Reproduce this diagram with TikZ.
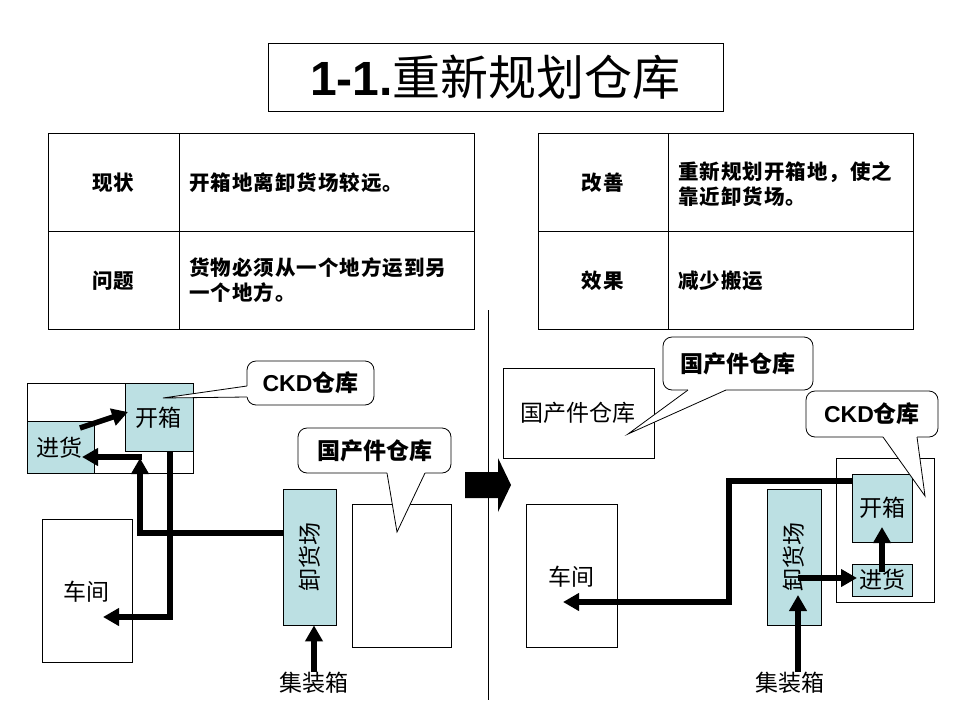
\documentclass[tikz,border=0pt]{standalone}
\usepackage{fontspec}
\setmainfont{Liberation Sans}
\newfontfamily\cjk{Noto Sans CJK SC}
\newfontfamily\cjkwide{Noto Sans CJK SC}[LetterSpace=5]
\usetikzlibrary{arrows.meta}
\definecolor{tealfill}{RGB}{188,224,227}
\begin{document}
\begin{tikzpicture}[x=1pt,y=-1pt,
  box/.style={draw, line width=0.8pt, inner sep=0pt},
  tealbox/.style={box, fill=tealfill},
  lbl/.style={font=\cjk\fontsize{23}{23}\selectfont, inner sep=0pt},
  cell/.style={font=\cjkwide\bfseries\fontsize{20.5}{25.5}\selectfont, inner sep=0pt},
  calloutbox/.style={draw, line width=0.8pt, fill=white, rounded corners=9pt, inner sep=0pt, font=\bfseries\fontsize{23}{23}\selectfont},
  tbl/.style={line width=0.8pt},
  flow/.style={line width=5.5pt, -{Triangle[length=16pt,width=17pt]}},
]
\useasboundingbox[fill=white] (0,0) rectangle (960,720);

% title
\node[box, line width=1pt, minimum width=455pt, minimum height=68pt] (title) at (495.5,77)
  {\fontsize{48}{48}\selectfont\bfseries 1-1.\cjk\mdseries 重新规划仓库};

% left table
\draw[tbl] (48,133) rectangle (474,329);
\draw[tbl] (179,133) -- (179,329);
\draw[tbl] (48,231) -- (474,231);
\node[cell] (t1a) at (113.5,183) {现状};
\node[cell, anchor=west] (t1b) at (189,183) {开箱地离卸货场较远。};
\node[cell] (t1c) at (113.5,281) {问题};
\node[cell, anchor=west, align=left] (t1d) at (189,280) {货物必须从一个地方运到另\\一个地方。};

% right table
\draw[tbl] (538,133) rectangle (913,329);
\draw[tbl] (668,133) -- (668,329);
\draw[tbl] (538,231) -- (913,231);
\node[cell] (t2a) at (603,183) {改善};
\node[cell, anchor=west, align=left] (t2b) at (678,184) {重新规划开箱地，使之\\靠近卸货场。};
\node[cell] (t2c) at (603,281) {效果};
\node[cell, anchor=west] (t2d) at (678,281) {减少搬运};

% divider and big arrow
\draw[line width=1pt] (488,310) -- (488,700);
\fill (465,472) -- (498,472) -- (498,458) -- (511,485) -- (498,512) -- (498,498) -- (465,498) -- cycle;

% ===== left layout =====
\node[box, minimum width=166pt, minimum height=90pt] (ckdL) at (110,428) {};
\node[tealbox, minimum width=68pt, minimum height=68pt] (kxL) at (159,417) {};
\node[lbl] (kxLt) at (158,418) {开箱};
\node[tealbox, minimum width=67pt, minimum height=52pt] (jhL) at (60.5,447) {};
\node[lbl] (jhLt) at (59,448) {进货};
\node[box, minimum width=90pt, minimum height=143pt] (cjL) at (87,590.5) {};
\node[lbl] (cjLt) at (86,592) {车间};
\node[tealbox, minimum width=53pt, minimum height=136pt] (xhL) at (309.5,557) {};
\node[lbl, rotate=90] (xhLt) at (310,557) {卸货场};
\node[box, minimum width=99pt, minimum height=143pt] (gcL) at (401.5,575.5) {};
\node[lbl] (jzL) at (314,683) {集装箱};

\coordinate (aL1) at (140,533);
\coordinate (tipL1) at (140,458);
\coordinate (sL2) at (142,457);
\coordinate (tipL2) at (82,457);
\coordinate (cL3) at (170,617);
\coordinate (tipL3) at (103,617);
\coordinate (dL1) at (80,428);
\coordinate (dL2) at (128,412);
\draw[flow] (xhL.west |- aL1) -- (aL1) -- (tipL1);
\draw[flow] (sL2) -- (tipL2);
\draw[flow] (kxL.south -| cL3) -- (cL3) -- (tipL3);
\draw[flow] (dL1) -- (dL2);
\draw[flow] (jzL.north) -- (jzL.north |- xhL.south);

% ===== right layout =====
\node[box, minimum width=151pt, minimum height=90pt] (gcR) at (578.5,413) {};
\node[lbl] (gcRt) at (578,413) {国产件仓库};
\node[box, minimum width=98pt, minimum height=144pt] (ckdR) at (885,530) {};
\node[tealbox, minimum width=60pt, minimum height=68pt] (kxR) at (882,508) {};
\node[lbl] (kxRt) at (882,508) {开箱};
\node[tealbox, minimum width=60pt, minimum height=32pt] (jhR) at (882,580) {};
\node[lbl] (jhRt) at (882,580) {进货};
\node[tealbox, minimum width=54pt, minimum height=136pt] (xhR) at (794,557) {};
\node[lbl, rotate=90] (xhRt) at (794,557) {卸货场};
\node[box, minimum width=91pt, minimum height=143pt] (cjR) at (571.5,575.5) {};
\node[lbl] (cjRt) at (571,577) {车间};
\node[lbl] (jzR) at (790,683) {集装箱};

\coordinate (tipR1) at (798,595);
\coordinate (sR2) at (798,578);
\coordinate (tipR2) at (857,578);
\coordinate (sR3) at (882,572);
\coordinate (tipR3) at (882,527);
\coordinate (cR4a) at (729,481);
\coordinate (cR4b) at (729,602);
\coordinate (tipR4) at (563,602);
\draw[flow] (jzR.north -| tipR1) -- (tipR1);
\draw[flow] (sR2) -- (tipR2);
\draw[flow] (sR3) -- (tipR3);
\draw[flow] (kxR.west |- cR4a) -- (cR4a) -- (cR4b) -- (tipR4);

% ===== callouts =====
% left CKD
\node[calloutbox, minimum width=127pt, minimum height=44pt] (cbL1) at (310.5,383) {CKD\cjk 仓库};
\fill[white] (251,386) -- (247,386) -- (163,398) -- (247,397) -- (251,397) -- cycle;
\draw[line width=0.8pt] (247,386) -- (163,398) -- (247,397);
% left domestic
\node[calloutbox, minimum width=153pt, minimum height=45pt] (cbL2) at (374.5,450.5) {\cjk 国产件仓库};
\fill[white] (387,469) -- (387,473) -- (397,532) -- (425,473) -- (425,469) -- cycle;
\draw[line width=0.8pt] (387,473) -- (397,532) -- (425,473);
% right domestic
\node[calloutbox, minimum width=150pt, minimum height=53pt] (cbR1) at (738,363.5) {\cjk 国产件仓库};
\fill[white] (688,386) -- (688,390) -- (628,434) -- (726,390) -- (726,386) -- cycle;
\draw[line width=0.8pt] (688,390) -- (628,434) -- (726,390);
% right CKD
\node[calloutbox, minimum width=132pt, minimum height=46pt] (cbR2) at (872,414) {CKD\cjk 仓库};
\fill[white] (883,433) -- (883,437) -- (925,496) -- (917,437) -- (917,433) -- cycle;
\draw[line width=0.8pt] (883,437) -- (925,496) -- (917,437);
\end{tikzpicture}
\end{document}
